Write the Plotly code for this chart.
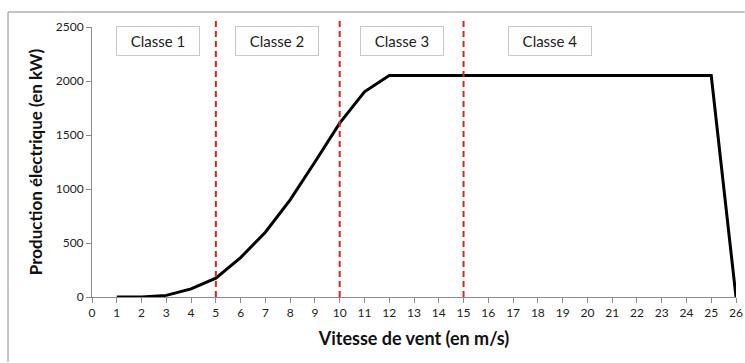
import plotly.graph_objects as go

# Wind speed (m/s) and electrical output (kW) of the turbine
vitesse = [1, 2, 3, 4, 5, 6, 7, 8, 9, 10, 11, 12, 13, 14, 15, 16, 17, 18, 19,
           20, 21, 22, 23, 24, 25, 26]
production = [0, 0, 15, 75, 175, 365, 600, 900, 1250, 1610, 1900, 2050, 2050,
              2050, 2050, 2050, 2050, 2050, 2050, 2050, 2050, 2050, 2050, 2050,
              2050, 0]

# Class boundaries and labels
limites = [5, 10, 15]
classes = ["Classe 1", "Classe 2", "Classe 3", "Classe 4"]
centres_classes = [2.68, 7.47, 12.5, 18.5]

x_ticks = list(range(0, 27))
y_ticks = [0, 500, 1000, 1500, 2000, 2500]

FONT = "Lato, 'Open Sans', sans-serif"

fig = go.Figure()
fig.add_trace(go.Scatter(
    x=vitesse, y=production, mode="lines",
    line=dict(color="black", width=3), showlegend=False,
))

shapes = []
for b in limites:
    shapes.append(dict(type="line", xref="x", yref="paper", x0=b, x1=b,
                       y0=0, y1=1.037,
                       line=dict(color="#E0221E", width=2, dash="6px,4px")))
# outer frame (top and left edges, kept inside the page)
shapes.append(dict(type="line", xref="paper", yref="paper",
                   x0=-0.1304, x1=1.0135, y0=1.0555, y1=1.0555,
                   line=dict(color="#8a8a8a", width=1)))
shapes.append(dict(type="line", xref="paper", yref="paper",
                   x0=-0.1304, x1=-0.1304, y0=-0.24, y1=1.0555,
                   line=dict(color="#8a8a8a", width=1)))

annotations = []
for name, cx in zip(classes, centres_classes):
    annotations.append(dict(
        x=cx, y=0.95, xref="x", yref="paper", xanchor="center",
        yanchor="middle", text=name, showarrow=False,
        font=dict(family=FONT, size=15, color="#222"),
        bgcolor="white", bordercolor="#c8c8c8", borderwidth=1,
        width=78, height=24, borderpad=2,
    ))

fig.update_layout(
    width=745, height=363,
    margin=dict(l=92, r=9, t=27, b=66),
    paper_bgcolor="white", plot_bgcolor="white",
    font=dict(family=FONT, color="#222"),
    shapes=shapes, annotations=annotations,
    xaxis=dict(
        range=[0, 26], tickvals=x_ticks, ticktext=[str(v) for v in x_ticks],
        automargin=False,
        showgrid=False, zeroline=False, showline=True, linecolor="#8c8c8c",
        linewidth=1, ticks="outside", ticklen=5, tickcolor="#8c8c8c",
        tickfont=dict(size=12, family=FONT, color="#222"),
        title=dict(text="<b>Vitesse de vent (en m/s)</b>", standoff=12,
                   font=dict(size=18, family=FONT, color="#111")),
    ),
    yaxis=dict(
        range=[0, 2500], tickvals=y_ticks, automargin=False,
        showgrid=False, zeroline=False, showline=True, linecolor="#8c8c8c",
        linewidth=1, ticks="outside", ticklen=5, tickcolor="#8c8c8c",
        tickfont=dict(size=12, family=FONT, color="#222"),
        title=dict(text="<b>Production électrique (en kW)</b>", standoff=8,
                   font=dict(size=17, family=FONT, color="#111")),
    ),
)

fig.write_html("out.html")
